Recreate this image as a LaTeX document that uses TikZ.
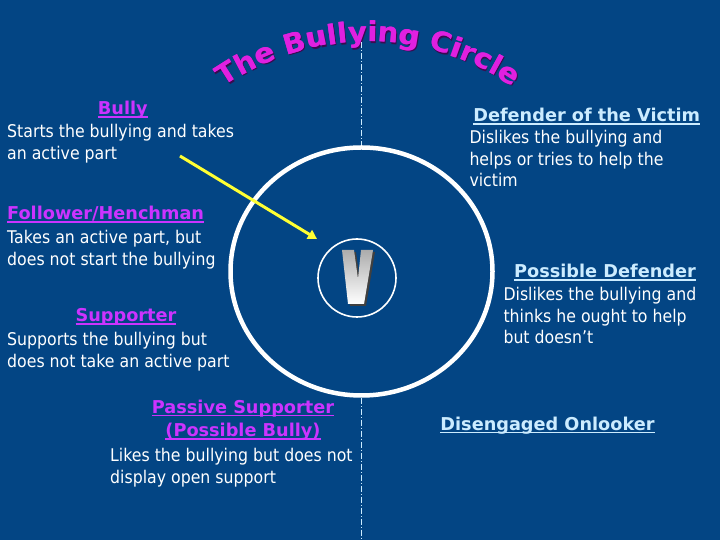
\documentclass[tikz,border=0pt]{standalone}
\usepackage{fontspec}
\usepackage{xcolor}
\usetikzlibrary{arrows.meta,decorations.text,shapes.geometric}
\newfontfamily\bodyfont[FakeStretch=0.9]{DejaVu Sans}
\newfontfamily\headfont{DejaVu Sans}
\newfontfamily\titlefont[FakeStretch=1.06]{DejaVu Sans}
\definecolor{bgblue}{HTML}{034584}
\definecolor{headmag}{HTML}{CC33FF}
\definecolor{titlemag}{HTML}{E020E0}
\definecolor{titleshade}{HTML}{3A0A50}
\definecolor{headblue}{HTML}{CCECFF}
\definecolor{arrowyellow}{HTML}{FFFF33}
\newcommand{\headul}[1]{\setbox0\hbox{#1}\rlap{\rule[-2.6pt]{\wd0}{1.3pt}}\box0}

\begin{document}
\begin{tikzpicture}[x=1pt,y=1pt,
  body/.style={anchor=north west,inner sep=0pt,align=left,text=white,
    font=\bodyfont\fontsize{17.5}{21.7}\selectfont},
  pinkhead/.style={inner sep=0pt,text=headmag,align=center,
    font=\headfont\bfseries\fontsize{17.7}{23.5}\selectfont},
  bluehead/.style={pinkhead,text=headblue},
  divider/.style={draw=headblue,line width=1.2pt,dash pattern=on 6pt off 2pt on 1pt off 2pt},
  pointer/.style={draw=arrowyellow,line width=3pt,-{Triangle[length=9pt,width=10pt]}},
  titlearc/.style={decorate,decoration={text along path,text color=#1,text align=center,
    text={|\titlefont\bfseries\fontsize{27.5}{27.5}\selectfont|The Bullying Circle}}}]
\fill[bgblue] (0,0) rectangle (720,540);
\useasboundingbox (0,0) rectangle (720,540);
%
\path[titlearc=titleshade] ([shift={(125:255)}]369.4,241.6) arc[start angle=125,end angle=55,radius=255];
\path[titlearc=titlemag] ([shift={(125:255)}]368.5,243) arc[start angle=125,end angle=55,radius=255];
\path[titlearc=titlemag] ([shift={(125:255)}]368,243) arc[start angle=125,end angle=55,radius=255];
%
\node[ellipse,draw=white,line width=4.5pt,minimum width=262pt,minimum height=248pt,inner sep=0pt] (ring) at (361.5,268.5) {};
\node[circle,draw=white,line width=1.6pt,minimum size=78pt,inner sep=0pt] (vring) at (357,262) {};
\coordinate (titlefoot) at (361.5,498);
\coordinate (floor) at (361.5,0);
\draw[divider] (titlefoot) -- (ring.north);
\draw[divider] (ring.south) -- (floor);
%
\fill[black!75] (344,288)--(356,288)--(360,259)--(363,288)--(375,288)--(366,234)--(350,234)--cycle;
\shade[top color=gray!65,bottom color=white] (342,290)--(354,290)--(358,261)--(361,290)--(373,290)--(364,236)--(348,236)--cycle;
%
\node[pinkhead,anchor=base] (bully) at (122.8,425) {\headul{Bully}};
\node[body] (bullytext) at (7,416) {Starts the bullying and takes\\an active part};
%
\node[pinkhead,anchor=base west] (follower) at (7,320) {\headul{Follower/Henchman}};
\node[body] (followertext) at (7,310) {Takes an active part, but\\does not start the bullying};
%
\node[pinkhead,anchor=base] (supporter) at (126,218) {\headul{Supporter}};
\node[body] (supportertext) at (7,208) {Supports the bullying but\\does not take an active part};
%
\node[pinkhead,anchor=base] (passive) at (243,103) {\headul{Passive Supporter}\\\headul{(Possible Bully)}};
\node[body] (passivetext) at (110,91.6) {Likes the bullying but does not\\display open support};
%
\node[bluehead,anchor=base] (defender) at (586.7,418) {\headul{Defender of the Victim}};
\node[body] (defendertext) at (469.3,410) {Dislikes the bullying and\\helps or tries to help the\\victim};
%
\node[bluehead,anchor=base] (possible) at (605,262) {\headul{Possible Defender}};
\node[body] (possibletext) at (503.3,253) {Dislikes the bullying and\\thinks he ought to help\\but doesn’t};
%
\node[bluehead,anchor=base] (onlooker) at (547.5,109.7) {\headul{Disengaged Onlooker}};
%
\coordinate (arrowtail) at (180,384);
\coordinate (arrowtip) at (317,301);
\draw[pointer] (arrowtail) -- (arrowtip);
\end{tikzpicture}
\end{document}
